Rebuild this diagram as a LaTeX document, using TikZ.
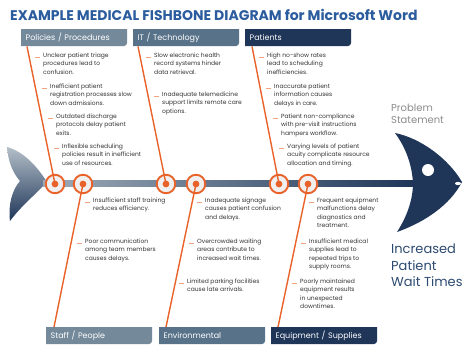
\documentclass[tikz,border=0pt]{standalone}
\usepackage{fontspec}
\setmainfont{Poppins}
\usetikzlibrary{calc}
\definecolor{orng}{HTML}{E8622A}
\definecolor{dashc}{HTML}{F3A27E}
\definecolor{navy}{HTML}{1F3659}
\definecolor{slateA}{HTML}{74899A}
\definecolor{slateB}{HTML}{587389}
\definecolor{titleblue}{HTML}{2B5C9E}
\definecolor{txt}{HTML}{333333}
\definecolor{effectblue}{HTML}{2D4B70}
\begin{document}
\begin{tikzpicture}[x=1pt, y=-1pt, every node/.style={inner sep=0pt, align=left, font=\fontsize{6}{8.4}\selectfont, text=txt},
  joint/.style={circle, draw=orng, line width=1.9pt, fill=gray!12, minimum size=18.5pt},
  bone/.style={orng, line width=1.4pt},
  hdr/.style={anchor=north west, minimum width=106pt, minimum height=17pt, text width=97pt, inner xsep=4.5pt, text=white, font=\fontsize{8}{9}\selectfont}]
  \useasboundingbox (0,0) rectangle (474,357);
  \fill[white] (0,0) rectangle (474,357);

  % Title
  \node[anchor=west, font=\bfseries\fontsize{14}{16}\selectfont, text=titleblue] (title) at (10,15) {EXAMPLE MEDICAL FISHBONE DIAGRAM for Microsoft Word};

  % Category boxes
  \foreach \n/\x/\y/\c/\t in {hPol/21/29/slateA/{Policies / Procedures}, hIT/133/29/slateB/{IT / Technology}, hPat/245/29/navy/Patients,
      hStf/46/327/slateA/{Staff / People}, hEnv/159/327/slateB/Environmental, hEqp/271/327/navy/{Equipment / Supplies}} {
    \fill[\c] (\x,\y+17) -- (\x,\y) -- (\x+106,\y) [rounded corners=3pt] -- (\x+106,\y+17) [sharp corners] -- cycle;
    \node[hdr] (\n) at (\x,\y) {\t};
  }

  % Tail, spine and head
  \shade[top color=slateA!55, bottom color=navy] (7,147) .. controls (25,152) and (38,168) .. (47,182) .. controls (35,195) and (22,205) .. (10,221) .. controls (8,205) and (12,190) .. (20,181) .. controls (12,172) and (8,160) .. (7,147) -- cycle;
  \shade[left color=slateA!70, right color=navy] (43,180.5) rectangle (414,186.5);
  \fill[navy] (395,133) .. controls (420,138) and (448,158) .. (462,182) .. controls (450,205) and (425,222) .. (397,232) .. controls (408,215) and (413,198) .. (413,183) .. controls (412,165) and (406,148) .. (395,133) -- cycle;
  \fill[white] (428,170) circle (6);
  \fill[white] (458,183.5) ellipse (3 and 1.6);

  % Joints on the spine
  \foreach \n/\x in {cPol/55, cStf/83, cIT/166, cEnv/196, cPat/279, cEqp/308}
    \node[joint] (\n) at (\x,184) {};

  % Bones
  \draw[bone] ([xshift=6pt]hPol.south west) -- (cPol.center);
  \draw[bone] ([xshift=5pt]hIT.south west) -- (cIT.center);
  \draw[bone] ([xshift=7pt]hPat.south west) -- (cPat.center);
  \draw[bone] ([xshift=8pt]hStf.north west) -- (cStf.center);
  \draw[bone] ([xshift=7pt]hEnv.north west) -- (cEnv.center);
  \draw[bone] ([xshift=7pt]hEqp.north west) -- (cEqp.center);
  \foreach \n in {cPol, cStf, cIT, cEnv, cPat, cEqp}
    \fill[orng] (\n) circle (3.4);

  % Causes
  \foreach \n/\x/\y/\t in {
      p1/43/57/{Unclear patient triage\\procedures lead to\\confusion.},
      p2/50/88/{Inefficient patient\\registration processes slow\\down admissions.},
      p3/56/118/{Outdated discharge\\protocols delay patient\\exits.},
      p4/62/148/{Inflexible scheduling\\policies result in inefficient\\use of resources.},
      i1/154/57/{Slow electronic health\\record systems hinder\\data retrieval.},
      i2/162/96/{Inadequate telemedicine\\support limits remote care\\options.},
      a1/267/57/{High no-show rates\\lead to scheduling\\inefficiencies.},
      a2/274/88/{Inaccurate patient\\information causes\\delays in care.},
      a3/281/118/{Patient non-compliance\\with pre-visit instructions\\hampers workflow.},
      a4/287/148/{Varying levels of patient\\acuity complicate resource\\allocation and timing.},
      s1/93/202/{Insufficient staff training\\reduces efficiency.},
      s2/85/243/{Poor communication\\among team members\\causes delays.},
      e1/205/202/{Inadequate signage\\causes patient confusion\\and delays.},
      e2/197/243/{Overcrowded waiting\\areas contribute to\\increased wait times.},
      e3/187/283/{Limited parking facilities\\cause late arrivals.},
      q1/317/202/{Frequent equipment\\malfunctions delay\\diagnostics and\\treatment.},
      q2/309/243/{Insufficient medical\\supplies lead to\\repeated trips to\\supply rooms.},
      q3/300/283/{Poorly maintained\\equipment results\\in unexpected\\downtimes.}} {
    \node[anchor=north west] (\n) at (\x,\y-4.3) {\t};
    \draw[dashc, line width=0.6pt] ($(\n.north west)+(-8,4.3)$) -- ++(5,0);
  }

  % Problem statement
  \node[anchor=north west, text=gray!90, font=\fontsize{10}{12}\selectfont] (prob) at (391,104) {Problem\\Statement};
  \node[anchor=north west, text=effectblue, font=\fontsize{13}{16.5}\selectfont] (effect) at (391,244) {Increased\\Patient\\Wait Times};
\end{tikzpicture}
\end{document}
